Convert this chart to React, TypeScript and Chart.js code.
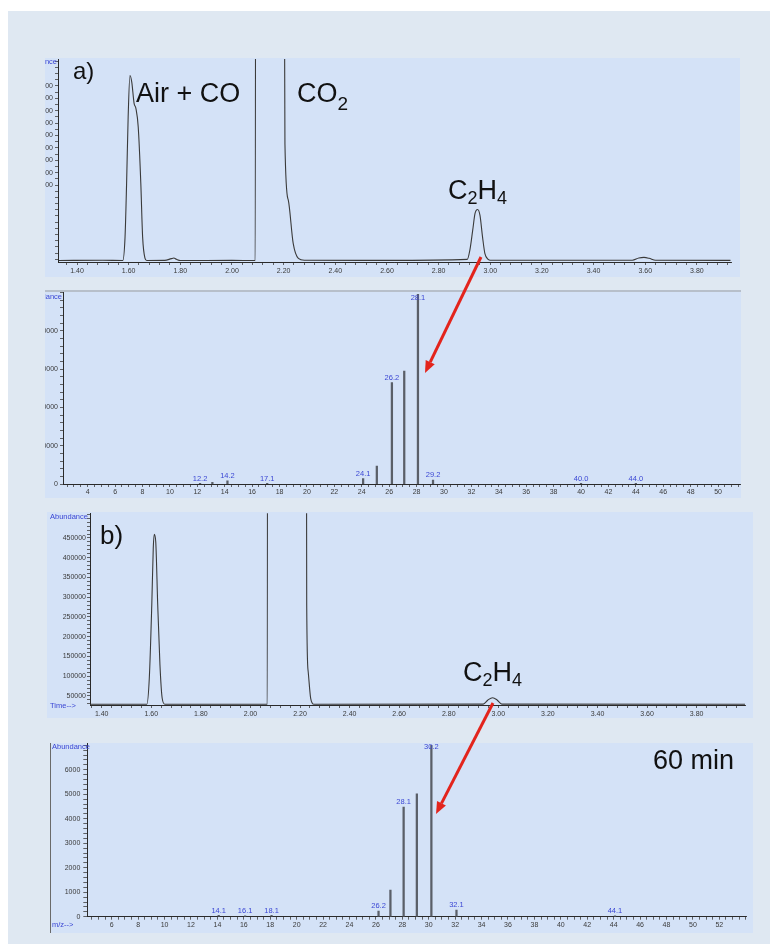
import React, { useEffect, useRef } from 'react';
import { Chart, registerables } from 'chart.js';
Chart.register(...registerables);

// ---------------- DATA ----------------
// a) chromatogram (retention time in min, abundance)
const chromATime = [1.33, 1.5, 1.577, 1.586, 1.592, 1.598, 1.605, 1.612, 1.621, 1.628, 1.637, 1.647, 1.654, 1.663, 1.67, 1.74, 1.765, 1.775, 1.785, 1.8, 2.0, 2.09, 2.093, 2.197, 2.205, 2.218, 2.237, 2.257, 2.28, 2.6, 2.911, 2.921, 2.932, 2.941, 2.951, 2.96, 2.97, 2.979, 2.992, 3.0, 3.55, 3.575, 3.595, 3.615, 3.64, 3.93];
const chromAAbund = [190000, 192000, 190000, 381000, 815000, 1349000, 1685000, 1631000, 1460000, 1419000, 1268000, 815000, 381000, 210000, 190000, 191000, 205000, 210000, 200000, 190000, 191000, 190000, 6000000, 6000000, 1135000, 677000, 328000, 207000, 192000, 191000, 199000, 274000, 435000, 570000, 602000, 556000, 381000, 248000, 199000, 192000, 192000, 210000, 215000, 208000, 192000, 191000];

// a) mass spectrum
const msAmz = [12.2, 13.1, 14.2, 17.1, 24.1, 25.1, 26.2, 27.1, 28.1, 29.2, 40.0, 44.0];
const msAAbund = [150, 450, 800, 150, 1400, 4700, 26500, 29500, 49500, 1000, 150, 150];
const msALabels = ['12.2', '', '14.2', '17.1', '24.1', '', '26.2', '', '28.1', '29.2', '40.0', '44.0'];

// b) chromatogram
const chromBTime = [1.353, 1.582, 1.592, 1.602, 1.608, 1.612, 1.618, 1.626, 1.635, 1.644, 1.655, 2.068, 2.07, 2.223, 2.227, 2.233, 2.243, 2.256, 2.939, 2.958, 2.977, 2.995, 3.014, 3.995];
const chromBAbund = [29000, 29000, 94800, 280400, 424000, 459400, 440600, 280400, 128500, 44200, 29000, 29000, 2000000, 2000000, 280000, 111500, 44000, 29000, 29500, 40000, 45700, 40000, 29500, 29000];

// b) mass spectrum (60 min)
const msBmz = [14.1, 16.1, 18.1, 26.2, 27.1, 28.1, 29.1, 30.2, 32.1, 44.1];
const msBAbund = [60, 40, 60, 230, 1090, 4480, 5020, 7000, 270, 40];
const msBLabels = ['14.1', '16.1', '18.1', '26.2', '', '28.1', '', '30.2', '32.1', '44.1'];

// tick labels
const chromXMajor = [1.4, 1.6, 1.8, 2.0, 2.2, 2.4, 2.6, 2.8, 3.0, 3.2, 3.4, 3.6, 3.8];
const chromXLabels = ['1.40', '1.60', '1.80', '2.00', '2.20', '2.40', '2.60', '2.80', '3.00', '3.20', '3.40', '3.60', '3.80'];
const chromAYMajor = [800000, 900000, 1000000, 1100000, 1200000, 1300000, 1400000, 1500000, 1600000];
const chromAYLabels = ['800000', '900000', '1000000', '1100000', '1200000', '1300000', '1400000', '1500000', '1600000'];
const chromBYMajor = [50000, 100000, 150000, 200000, 250000, 300000, 350000, 400000, 450000];
const chromBYLabels = ['50000', '100000', '150000', '200000', '250000', '300000', '350000', '400000', '450000'];
const msAXMajor = [4, 6, 8, 10, 12, 14, 16, 18, 20, 22, 24, 26, 28, 30, 32, 34, 36, 38, 40, 42, 44, 46, 48, 50];
const msAXLabels = msAXMajor.map(String);
const msAYMajor = [0, 10000, 20000, 30000, 40000];
const msAYLabels = ['0', '10000', '20000', '30000', '40000'];
const msBXMajor = [6, 8, 10, 12, 14, 16, 18, 20, 22, 24, 26, 28, 30, 32, 34, 36, 38, 40, 42, 44, 46, 48, 50, 52];
const msBXLabels = msBXMajor.map(String);
const msBYMajor = [0, 1000, 2000, 3000, 4000, 5000, 6000];
const msBYLabels = ['0', '1000', '2000', '3000', '4000', '5000', '6000'];

// ---------------- HELPERS ----------------
const FONT = "'Liberation Sans', Arial, sans-serif";
const PANEL_BG = '#d4e2f7';
const OUTER_BG = '#dfe8f2';
const LABEL_BLUE = '#3b47d4';

function axisTicks(min: number, max: number, step: number, majors: number[], labels: string[]) {
  const vals: number[] = [];
  const start = Math.ceil(min / step - 1e-9);
  const end = Math.floor(max / step + 1e-9);
  for (let k = start; k <= end; k++) vals.push(+(k * step).toFixed(6));
  const lab = (v: number) => {
    const i = majors.findIndex((m) => Math.abs(m - v) < step / 10);
    return i >= 0 ? labels[i] : '';
  };
  return { vals, lab };
}

function scaleCfg(axis: 'x' | 'y', min: number, max: number, t: any, pad: number, fitSize: number, tickLen: number) {
  return {
    type: 'linear',
    min,
    max,
    offset: false,
    afterBuildTicks: (s: any) => {
      s.ticks = t.vals.map((v: number) => ({ value: v }));
    },
    afterFit: (s: any) => {
      if (axis === 'x') s.height = fitSize;
      else s.width = fitSize;
      s.paddingLeft = 0;
      s.paddingRight = 0;
      s.paddingTop = 0;
      s.paddingBottom = 0;
    },
    ticks: {
      autoSkip: false,
      maxRotation: 0,
      minRotation: 0,
      padding: pad,
      font: { family: FONT, size: 7 },
      color: '#3a3a3a',
      callback: (v: any) => t.lab(Number(v)),
    },
    grid: { display: true, offset: false, drawOnChartArea: false, drawTicks: true, tickLength: tickLen, color: '#404040', lineWidth: 0.8 },
    border: { display: true, color: '#2a2a2a', width: 1 },
  };
}

const barLabelPlugin = {
  id: 'barLabels',
  afterDatasetsDraw(chart: any, _args: any, opts: any) {
    const labels: string[] = opts.labels || [];
    const meta = chart.getDatasetMeta(0);
    const ctx = chart.ctx;
    ctx.save();
    ctx.font = `7.5px ${FONT}`;
    ctx.fillStyle = LABEL_BLUE;
    ctx.textAlign = 'center';
    ctx.textBaseline = 'bottom';
    meta.data.forEach((el: any, i: number) => {
      const lbl = labels[i];
      if (!lbl) return;
      let y = el.y - 1;
      y = Math.max(y, chart.chartArea.top + (opts.topPad || 8));
      ctx.fillText(lbl, el.x, y);
    });
    ctx.restore();
  },
};

type Geo = { W: number; H: number; L: number; R: number; T: number; B: number };

function baseOptions(g: Geo, x: any, y: any, extraPlugins: any = {}) {
  return {
    responsive: false,
    maintainAspectRatio: false,
    animation: false,
    devicePixelRatio: 1,
    events: [],
    layout: { padding: { top: g.T, right: g.W - g.R, bottom: 0, left: 0 } },
    scales: { x, y },
    plugins: { legend: { display: false }, tooltip: { enabled: false }, ...extraPlugins },
  };
}

function chromConfig(time: number[], abund: number[], g: Geo, xr: [number, number], yr: [number, number], yStep: number, yMaj: number[], yLab: string[], yPad: number) {
  const xt = axisTicks(xr[0], xr[1], 0.04, chromXMajor, chromXLabels);
  const yt = axisTicks(yr[0], yr[1], yStep, yMaj, yLab);
  return {
    type: 'line',
    data: {
      datasets: [
        {
          data: time.map((t, i) => ({ x: t, y: abund[i] })),
          borderColor: '#3a3a3a',
          borderWidth: 1.1,
          pointRadius: 0,
          cubicInterpolationMode: 'monotone',
          fill: false,
        },
      ],
    },
    options: baseOptions(g, scaleCfg('x', xr[0], xr[1], xt, 2, g.H - g.B, 3), scaleCfg('y', yr[0], yr[1], yt, yPad, g.L, 3)),
  };
}

function msConfig(mz: number[], ab: number[], labels: string[], g: Geo, xr: [number, number], yr: [number, number], yStep: number, xMaj: number[], xLab: string[], yMaj: number[], yLab: string[], yPad: number, yTick: number, topPad: number) {
  const xt = axisTicks(xr[0], xr[1], 0.5, xMaj, xLab);
  const yt = axisTicks(yr[0], yr[1], yStep, yMaj, yLab);
  return {
    type: 'bar',
    data: {
      datasets: [
        {
          data: mz.map((m, i) => ({ x: m, y: ab[i] })),
          backgroundColor: '#5a5f68',
          borderWidth: 0,
          barThickness: 1.6,
        },
      ],
    },
    options: baseOptions(g, scaleCfg('x', xr[0], xr[1], xt, 1, g.H - g.B, 3), scaleCfg('y', yr[0], yr[1], yt, yPad, g.L, yTick), {
      barLabels: { labels, topPad },
    }),
    plugins: [barLabelPlugin],
  };
}

function ChartCanvas({ config, left, top, W, H }: any) {
  const ref = useRef<HTMLCanvasElement | null>(null);
  useEffect(() => {
    if (!ref.current) return;
    const c = new Chart(ref.current, config);
    return () => c.destroy();
  }, []);
  return <canvas ref={ref} width={W} height={H} style={{ position: 'absolute', left, top, width: W, height: H }} />;
}

const tiny: React.CSSProperties = { position: 'absolute', fontFamily: FONT, fontSize: 7.5, lineHeight: '8px', color: LABEL_BLUE, whiteSpace: 'nowrap' };
const big: React.CSSProperties = { position: 'absolute', fontFamily: FONT, fontSize: 27, lineHeight: 1, color: '#111', whiteSpace: 'nowrap' };

function Arrow({ x1, y1, x2, y2 }: any) {
  const dx = x2 - x1, dy = y2 - y1;
  const len = Math.hypot(dx, dy);
  const ux = dx / len, uy = dy / len;
  const hl = 12, hw = 5;
  const bx = x2 - ux * hl, by = y2 - uy * hl;
  const nx = -uy, ny = ux;
  return (
    <g>
      <line x1={x1} y1={y1} x2={bx} y2={by} stroke="#e3241c" strokeWidth={3} />
      <polygon points={`${x2},${y2} ${bx + nx * hw},${by + ny * hw} ${bx - nx * hw},${by - ny * hw}`} fill="#e3241c" />
    </g>
  );
}

export default function App() {
  const gA: Geo = { W: 730, H: 219, L: 48, R: 721, T: 1, B: 204 };
  const gB: Geo = { W: 731, H: 208, L: 53, R: 730, T: 2.5, B: 194 };
  const gC: Geo = { W: 706, H: 206, L: 43, R: 698, T: 1.3, B: 193 };
  const gD: Geo = { W: 703, H: 190, L: 37.3, R: 696.7, T: 0.3, B: 173.7 };

  const cfgA = chromConfig(chromATime, chromAAbund, gA, [1.3264, 3.932], [178000, 1818000], 50000, chromAYMajor, chromAYLabels, 2);
  const cfgB = msConfig(msAmz, msAAbund, msALabels, gB, [2.2, 51.6], [0, 50000], 2000, msAXMajor, msAXLabels, msAYMajor, msAYLabels, 2, 3, 9);
  const cfgC = chromConfig(chromBTime, chromBAbund, gC, [1.3528, 3.995], [27200, 512500], 10000, chromBYMajor, chromBYLabels, 1);
  const cfgD = msConfig(msBmz, msBAbund, msBLabels, gD, [4.153, 54.07], [0, 7080], 200, msBXMajor, msBXLabels, msBYMajor, msBYLabels, 3, 4, 7);

  return (
    <div style={{ position: 'absolute', left: 0, top: 0, width: 770, height: 952, overflow: 'hidden', background: '#ffffff' }}>
      <div style={{ position: 'absolute', left: 8, top: 11, width: 762, height: 933, background: OUTER_BG }} />

      {/* Panel a) chromatogram */}
      <div style={{ position: 'absolute', left: 45, top: 58, width: 695, height: 219, overflow: 'hidden', background: PANEL_BG }}>
        <ChartCanvas config={cfgA} left={-35} top={0} W={gA.W} H={gA.H} />
        <div style={{ ...tiny, right: 683, top: 0 }}>Abundance</div>
      </div>

      {/* Panel a) mass spectrum */}
      <div style={{ position: 'absolute', left: 45, top: 290, width: 696, height: 208, overflow: 'hidden', background: PANEL_BG, borderTop: '2px solid #b7bfca', boxSizing: 'border-box' }}>
        <ChartCanvas config={cfgB} left={-35} top={-2} W={gB.W} H={gB.H} />
        <div style={{ ...tiny, right: 679, top: 1 }}>Abundance</div>
      </div>

      {/* Panel b) chromatogram */}
      <div style={{ position: 'absolute', left: 47, top: 512, width: 706, height: 206, overflow: 'hidden', background: PANEL_BG }}>
        <ChartCanvas config={cfgC} left={0} top={0} W={gC.W} H={gC.H} />
        <div style={{ ...tiny, left: 3, top: 1 }}>Abundance</div>
        <div style={{ ...tiny, left: 3, top: 190 }}>Time--&gt;</div>
      </div>

      {/* Panel b) mass spectrum */}
      <div style={{ position: 'absolute', left: 50, top: 743, width: 703, height: 190, overflow: 'hidden', background: PANEL_BG, borderLeft: '1px solid #6a6a6a', boxSizing: 'border-box' }}>
        <ChartCanvas config={cfgD} left={-1} top={0} W={gD.W} H={gD.H} />
        <div style={{ ...tiny, left: 1, top: 0 }}>Abundance</div>
        <div style={{ ...tiny, left: 1, top: 178 }}>m/z--&gt;</div>
      </div>

      {/* Annotations */}
      <div style={{ ...big, fontSize: 24, left: 73, top: 59 }}>a)</div>
      <div style={{ ...big, left: 136, top: 79.5 }}>Air + CO</div>
      <div style={{ ...big, left: 297, top: 79.5 }}>
        CO<span style={{ fontSize: 19, position: 'relative', top: 8 }}>2</span>
      </div>
      <div style={{ ...big, left: 448, top: 176.5 }}>
        C<span style={{ fontSize: 18, position: 'relative', top: 5 }}>2</span>H<span style={{ fontSize: 18, position: 'relative', top: 5 }}>4</span>
      </div>
      <div style={{ ...big, fontSize: 26, left: 100, top: 522 }}>b)</div>
      <div style={{ ...big, left: 463, top: 658.5 }}>
        C<span style={{ fontSize: 18, position: 'relative', top: 5 }}>2</span>H<span style={{ fontSize: 18, position: 'relative', top: 5 }}>4</span>
      </div>
      <div style={{ ...big, left: 653, top: 746.5 }}>60 min</div>

      <svg width={770} height={952} style={{ position: 'absolute', left: 0, top: 0, pointerEvents: 'none' }}>
        <Arrow x1={481} y1={257} x2={425} y2={373} />
        <Arrow x1={493} y1={703} x2={436} y2={814} />
      </svg>
    </div>
  );
}
